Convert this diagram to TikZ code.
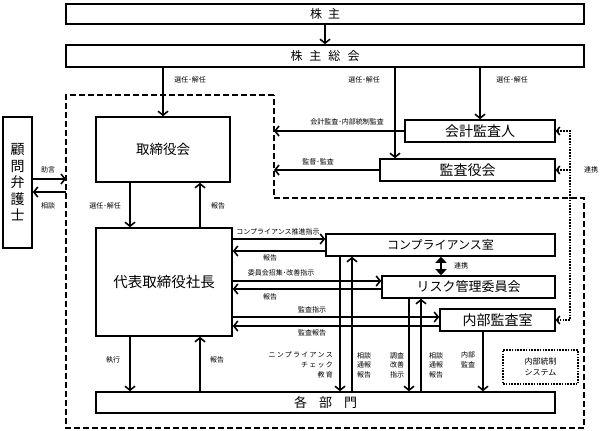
\documentclass[tikz,border=0pt]{standalone}
\usepackage{fontspec}
\setmainfont{Noto Sans CJK JP}
\newfontfamily\jpwide[LetterSpace=18]{Noto Sans CJK JP}
\usepackage{tikz}
\usetikzlibrary{calc,arrows.meta,positioning}
\tikzset{
  ar/.style={-{Straight Barb[length=4pt,width=10pt]},line width=1.6pt},
  box/.style={draw,line width=1.6pt,fill=white,inner sep=0pt,align=center},
  lb/.style={font=\fontsize{7}{9.5}\selectfont,inner sep=1pt,align=center},
  bd/.style={line width=1.6pt,dash pattern=on 6pt off 3pt},
  dt/.style={line width=1.6pt,dash pattern=on 1.6pt off 1.2pt},
  dtar/.style={dt,{Straight Barb[length=3pt,width=8pt]}-{Straight Barb[length=3pt,width=8pt]}}
}

\begin{document}
\begin{tikzpicture}[x=1pt,y=-1pt]
\useasboundingbox (0,0) rectangle (608,431);
\draw[bd] (274,95) -- (66,95) -- (66,428) -- (584,428) -- (584,198) -- (274,198) -- cycle;
\node[box,minimum width=518pt,minimum height=20pt,font=\fontsize{12}{12}\selectfont] (kabu) at (325,14) {株\hspace{6pt}主};
\node[box,minimum width=518pt,minimum height=22pt,font=\fontsize{12}{12}\selectfont] (soukai) at (325,56) {株\hspace{7pt}主\hspace{7pt}総\hspace{7pt}会};
\node[box,minimum width=134pt,minimum height=65pt,font=\fontsize{13.5}{14}\selectfont] (torishimari) at (163,149.5) {取締役会};
\node[box,minimum width=29pt,minimum height=131pt,font=\fontsize{14}{16.5}\selectfont] (bengoshi) at (17.5,182.5) {顧\\問\\弁\\護\\士};
\node[box,minimum width=150pt,minimum height=22pt,font=\fontsize{14}{14}\selectfont] (kaikei) at (480,131) {会計監査人};
\node[box,minimum width=175pt,minimum height=22pt,font=\fontsize{14}{14}\selectfont] (kansa) at (467.5,170) {監査役会};
\node[box,minimum width=136pt,minimum height=108pt,font=\fontsize{14.5}{15}\selectfont] (daihyo) at (164,282) {代表取締役社長};
\node[box,minimum width=229pt,minimum height=22pt,font=\fontsize{12}{12}\selectfont] (comp) at (440.5,245) {コンプライアンス室};
\node[box,minimum width=173pt,minimum height=22pt,font=\fontsize{13}{13}\selectfont] (risk) at (468.5,287) {リスク管理委員会};
\node[box,minimum width=115pt,minimum height=22pt,font=\fontsize{14}{14}\selectfont] (naibu) at (497.5,320) {内部監査室};
\node[box,minimum width=459pt,minimum height=21pt,font=\fontsize{13}{13}\selectfont] (kakubu) at (325.5,402.5) {各\hspace{12pt}部\hspace{12pt}門};
\node[draw,dt,minimum width=75pt,minimum height=34pt,lb,font=\fontsize{8}{10.5}\selectfont] (sys) at (540.5,367) {内部統制\\システム};

\coordinate (s2) at (395,0);
\coordinate (c1) at (130,0);
\coordinate (c2) at (200,0);
\coordinate (wall) at (274,0);
\coordinate (jogen) at (66,179);
\coordinate (sodan) at (66,192);
\coordinate (h1) at (0,239);
\coordinate (h2) at (0,251);
\coordinate (h3) at (0,281);
\coordinate (h4) at (0,289);
\coordinate (h5) at (0,317);
\coordinate (h6) at (0,326);
\coordinate (v1) at (340,0);
\coordinate (v2) at (352,0);
\coordinate (v3) at (409,0);
\coordinate (v4) at (421,0);
\coordinate (v5) at (483,0);
\coordinate (dm) at (441,0);
\coordinate (dr) at (570,0);

\draw[ar] (kabu) -- (soukai);
\draw[ar] (soukai.south -| torishimari) -- (torishimari);
\draw[ar] (soukai.south -| s2) -- (kansa.north -| s2);
\draw[ar] (soukai.south -| kaikei) -- (kaikei);
\node[lb] (l1) at (190,80) {選任･解任};
\node[lb] (l2) at (364,80) {選任･解任};
\node[lb] (l3) at (512,80) {選任･解任};

\draw[ar] (kaikei.west) -- (kaikei.west -| wall);
\draw[ar] (kansa.west) -- (kansa.west -| wall);
\node[lb] (l4) at (347,122) {会計監査･内部統制監査};
\node[lb] (l5) at (318,162) {監督･監査};

\draw[ar] (bengoshi.east |- jogen) -- (jogen);
\draw[ar] (sodan) -- (bengoshi.east |- sodan);
\node[lb] (l6) at (48,170) {助言};
\node[lb] (l7) at (48,206) {相談};

\draw[ar] (torishimari.south -| c1) -- (daihyo.north -| c1);
\draw[ar] (daihyo.north -| c2) -- (torishimari.south -| c2);
\node[lb] (l8) at (105,206) {選任･解任};
\node[lb] (l9) at (218,206) {報告};

\draw[ar] (daihyo.east |- h1) -- (comp.west |- h1);
\draw[ar] (comp.west |- h2) -- (daihyo.east |- h2);
\draw[ar] (daihyo.east |- h3) -- (risk.west |- h3);
\draw[ar] (risk.west |- h4) -- (daihyo.east |- h4);
\draw[ar] (daihyo.east |- h5) -- (naibu.west |- h5);
\draw[ar] (naibu.west |- h6) -- (daihyo.east |- h6);
\node[lb] (l10) at (278,232) {コンプライアンス推進指示};
\node[lb] (l11) at (270,258) {報告};
\node[lb] (l12) at (281,273) {委員会招集･改善指示};
\node[lb] (l13) at (270,297) {報告};
\node[lb] (l14) at (312,310) {監査指示};
\node[lb] (l15) at (312,333) {監査報告};

\draw[{Triangle[length=6pt,width=11pt]}-{Triangle[length=6pt,width=11pt]},line width=1.6pt] (comp.south -| dm) -- (risk.north -| dm);
\node[lb] (l16) at (461,266) {連携};

\draw[dtar] (kaikei.east) -- (kaikei.east -| dr) -- (naibu.east -| dr) -- (naibu.east);
\draw[dt,{Straight Barb[length=3pt,width=8pt]}-] (kansa.east) -- (kansa.east -| dr);
\node[lb] (l17) at (591,170) {連携};

\draw[ar] (daihyo.south -| c1) -- (kakubu.north -| c1);
\draw[ar] (kakubu.north -| c2) -- (daihyo.south -| c2);
\node[lb] (l18) at (113,360) {執行};
\node[lb] (l19) at (217,360) {報告};

\draw[ar] (comp.south -| v1) -- (kakubu.north -| v1);
\draw[ar] (kakubu.north -| v2) -- (comp.south -| v2);
\draw[ar] (risk.south -| v3) -- (kakubu.north -| v3);
\draw[ar] (kakubu.north -| v4) -- (risk.south -| v4);
\draw[ar] (naibu.south -| v5) -- (kakubu.north -| v5);
\node[lb,anchor=east,align=right,font=\jpwide\fontsize{7}{10}\selectfont] (l20) at (334,365) {ニンプライアンス\\チェック\\教育};
\node[lb] (l21) at (364,365) {相談\\通報\\報告};
\node[lb] (l22) at (397,365) {調査\\改善\\指示};
\node[lb] (l23) at (436,365) {相談\\通報\\報告};
\node[lb] (l24) at (468,360) {内部\\監査};
\end{tikzpicture}
\end{document}
